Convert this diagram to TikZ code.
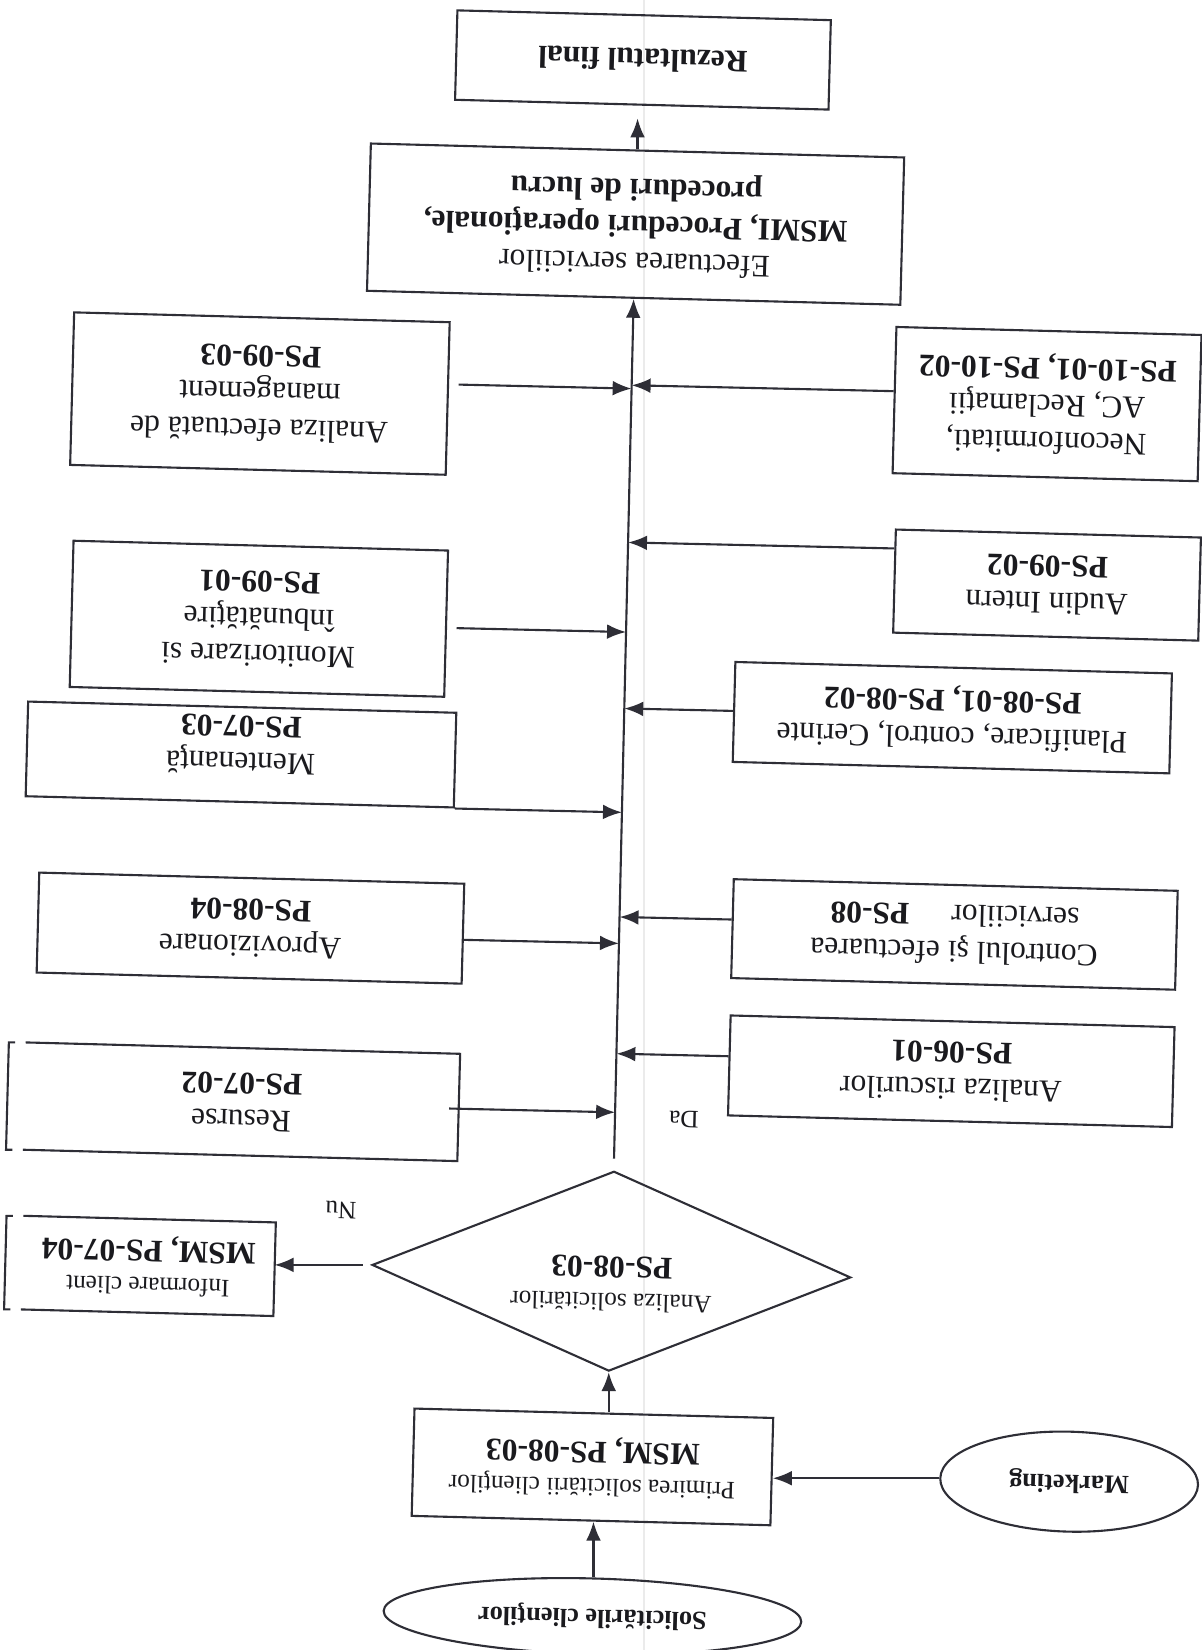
\documentclass[tikz,border=0pt]{standalone}
\usepackage{fontspec}
\setmainfont{Liberation Serif}
\usetikzlibrary{arrows.meta,calc,shapes.geometric}
\definecolor{ln}{HTML}{2E2E36}
\definecolor{tx}{HTML}{1A1A1E}
\newcommand\fmain{\fontsize{30}{35}\selectfont}
\newcommand\fsmall{\fontsize{24}{31}\selectfont}
\newcommand\fell{\fontsize{25}{30}\selectfont}
\begin{document}
\begin{tikzpicture}[x=1pt,y=-1pt,
  bx/.style={draw=ln, line width=2pt, rotate=178.5, align=center, inner sep=0pt, text=tx, font=\fmain},
  nobx/.style={bx, draw=none},
  txt/.style={rotate=178.5, align=center, inner sep=0pt, text=tx, font=\fmain},
  elli/.style={ellipse, draw=ln, line width=2pt, rotate=178.5, inner sep=0pt, text=tx, font=\fell},
  edge/.style={draw=ln, line width=2pt},
  arr/.style={draw=ln, line width=2pt, -{Latex[length=18pt,width=14pt]}}]
\fill[white] (0,0) rectangle (1142,1568);
\useasboundingbox (0,0) rectangle (1142,1568);
\draw[line width=1.2pt, black!8] (612,0) -- (612,1568);

% right column
\node[bx, minimum width=355pt, minimum height=85pt] (rez) at (611,57) {\textbf{Rezultatul final}};
\node[bx, minimum width=507pt, minimum height=140pt] (efe) at (604,213) {Efectuarea serviciilor\\\textbf{MSMI, Proceduri operaţionale,}\\\textbf{proceduri de lucru}};
\node[bx, minimum width=290pt, minimum height=139pt] (nec) at (995,384) {Neconformitati,\\AC, Reclamaţii\\\textbf{PS-10-01, PS-10-02}};
\node[bx, minimum width=290pt, minimum height=98pt] (aud) at (995,556) {Audin Intern\\\textbf{PS-09-02}};
\node[bx, minimum width=415pt, minimum height=95pt] (pla) at (905,682) {Planificare, control, Cerinte\\\textbf{PS-08-01, PS-08-02}};
\node[bx, minimum width=422pt, minimum height=94pt] (con) at (907,888) {Controlul şi efectuarea\\serviciilor\hspace{40pt}\textbf{PS-08}};
\node[bx, minimum width=422pt, minimum height=95pt] (ris) at (904,1018) {Analiza riscurilor\\\textbf{PS-06-01}};

% left column
\node[bx, minimum width=357pt, minimum height=145pt] (ane) at (247,374) {Analiza efectuată de\\management\\\textbf{PS-09-03}};
\node[bx, minimum width=356pt, minimum height=139pt] (mon) at (246,588) {Monitorizare si\\înbunătăţire\\\textbf{PS-09-01}};
\node[bx, minimum width=407pt, minimum height=90pt] (ment) at (229,717) {};
\node[txt] (mentt) at ($(ment.center)+(0,-9)$) {Mentenanţă\\\textbf{PS-07-03}};
\node[bx, minimum width=404pt, minimum height=95pt] (apr) at (238,882) {Aprovizionare\\\textbf{PS-08-04}};
\node[nobx, minimum width=411pt, minimum height=100pt] (res) at (229.5,1047) {Resurse\\\textbf{PS-07-02}};

% decision and input
\node[diamond, draw=ln, line width=2pt, rotate=178.5, inner sep=0pt, shape aspect=2.4, minimum width=455pt, minimum height=190pt] (dia) at (581,1208) {};
\node[txt] (diat) at ($(dia.center)+(0,12)$) {{\fsmall Analiza solicitărilor}\\\textbf{PS-08-03}};
\node[nobx, minimum width=238pt, minimum height=87pt] (inf) at (141,1203) {{\fsmall Informare client}\\\textbf{MSM, PS-07-04}};
\node[bx, minimum width=341pt, minimum height=102pt] (pri) at (563,1394) {{\fsmall Primirea solicitării clienţilor}\\\textbf{MSM, PS-08-03}};
\node[elli, minimum width=245pt, minimum height=95pt] (mkt) at (1016,1408) {\textbf{Marketing}};
\node[elli, minimum width=397pt, minimum height=72pt] (sol) at (563,1536) {\textbf{Solicitările clienţilor}};

\node[txt, font=\fsmall] (da) at (650,1064) {Da};
\node[txt, font=\fsmall] (nu) at (324,1150) {Nu};

% open boxes with brackets
\draw[edge] (res.south east) -- (res.south west) -- (res.north west) -- (res.north east);
\draw[edge] ($(res.south east)+(-10,0)$) -- ($(res.south east)+(-16,0)$) -- ($(res.north east)+(-16,0)$) -- ($(res.north east)+(-10,0)$);
\draw[edge] (inf.south east) -- (inf.south west) -- (inf.north west) -- (inf.north east);
\draw[edge] ($(inf.south east)+(-10,0)$) -- ($(inf.south east)+(-16,0)$) -- ($(inf.north east)+(-16,0)$) -- ($(inf.north east)+(-10,0)$);

% main line
\coordinate (lbot) at ($(dia.south)+(0,-11)$);
\draw[arr] (lbot) -- (efe.north);
\draw[arr] (efe.south) -- ($(efe.south |- rez.north)+(0,12)$);

% right inputs
\coordinate (sNec) at ($(nec.south east)!0.44!(nec.north east)$);
\coordinate (sAud) at ($(aud.south east)!0.19!(aud.north east)$);
\coordinate (sPla) at ($(pla.south east)!0.49!(pla.north east)$);
\coordinate (sCon) at ($(con.south east)!0.41!(con.north east)$);
\coordinate (sRis) at ($(ris.south east)!0.41!(ris.north east)$);
\draw[arr] (sNec) -- ($(lbot)!(sNec)!(efe.north)$);
\draw[arr] (sAud) -- ($(lbot)!(sAud)!(efe.north)$);
\draw[arr] (sPla) -- ($(lbot)!(sPla)!(efe.north)$);
\draw[arr] (sCon) -- ($(lbot)!(sCon)!(efe.north)$);
\draw[arr] (sRis) -- ($(lbot)!(sRis)!(efe.north)$);

% left inputs
\coordinate (sAne) at ($(ane.south west)!0.41!(ane.north west)+(9,0)$);
\coordinate (sMon) at ($(mon.south west)!0.53!(mon.north west)+(9,0)$);
\coordinate (sMen) at (ment.north west);
\coordinate (sApr) at ($(apr.south west)!0.56!(apr.north west)$);
\coordinate (sRes) at ($(res.south west)!0.51!(res.north west)+(-9,0)$);
\draw[arr] (sAne) -- ($(lbot)!(sAne)!(efe.north)$);
\draw[arr] (sMon) -- ($(lbot)!(sMon)!(efe.north)$);
\draw[arr] (sMen) -- ($(lbot)!(sMen)!(efe.north)$);
\draw[arr] (sApr) -- ($(lbot)!(sApr)!(efe.north)$);
\draw[arr] (sRes) -- ($(lbot)!(sRes)!(efe.north)$);

% lower flow
\draw[arr] ($(dia.east)+(-8,0)$) -- (dia.east -| inf.west);
\draw[arr] (pri.south -| dia.north) -- (dia.north);
\draw[arr] (sol.south) -- (sol.south |- pri.north);
\draw[arr] (mkt.east) -- (mkt.east -| pri.west);
\end{tikzpicture}
\end{document}
